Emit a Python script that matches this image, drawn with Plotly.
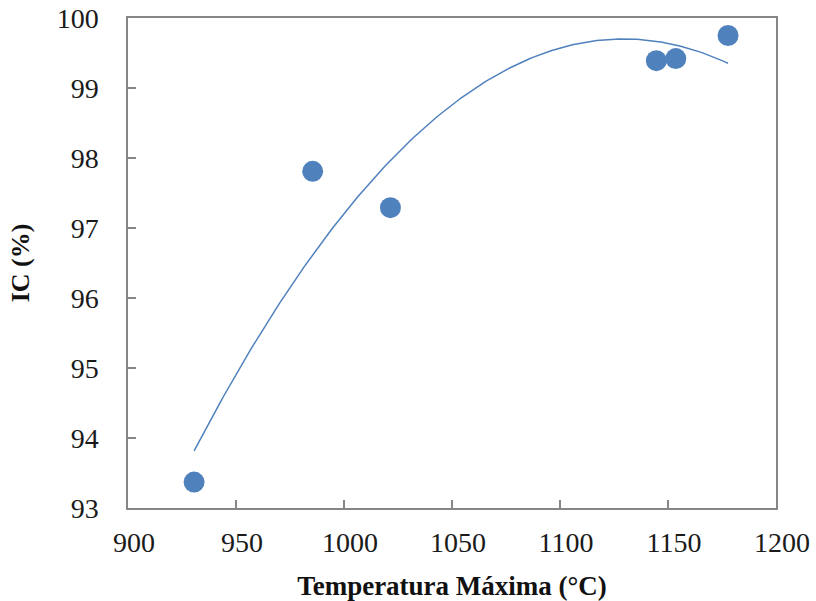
import numpy as np
import plotly.graph_objects as go

# Maximum temperature (°C) and IC (%) measurements
temperatura = [930.6, 985.5, 1021.5, 1144.6, 1153.6, 1177.8]
ic = [93.37, 97.81, 97.29, 99.39, 99.42, 99.75]

x_ticks = [900, 950, 1000, 1050, 1100, 1150, 1200]
y_ticks = [93, 94, 95, 96, 97, 98, 99, 100]

# Second-order polynomial trendline over the data range
coef = np.polyfit(temperatura, ic, 2)
x_fit = np.linspace(min(temperatura), max(temperatura), 200)
y_fit = np.polyval(coef, x_fit)

blue = "#4F81BD"
font_family = "Liberation Serif, Times New Roman, serif"

fig = go.Figure()
fig.add_trace(go.Scatter(
    x=x_fit, y=y_fit, mode="lines",
    line=dict(color=blue, width=1.5), hoverinfo="skip", showlegend=False,
))
fig.add_trace(go.Scatter(
    x=temperatura, y=ic, mode="markers",
    marker=dict(color=blue, size=21, line=dict(width=0)), showlegend=False,
))

axis_common = dict(
    showgrid=False, zeroline=False, automargin=False,
    showline=True, linecolor="#868686", linewidth=1.5, mirror=True,
    ticks="inside", ticklen=8, tickwidth=1.5, tickcolor="#868686",
    tickfont=dict(family=font_family, size=28, color="#1a1a1a"),
)

fig.update_layout(
    width=816, height=601,
    margin=dict(l=128, r=40, t=18, b=93),
    paper_bgcolor="white", plot_bgcolor="white",
    xaxis=dict(
        range=[900, 1200], tickvals=x_ticks,
        ticklabelstandoff=9, ticklabelshift=6,
        title=dict(text="<b>Temperatura Máxima (°C)</b>", standoff=20,
                   font=dict(family=font_family, size=27, color="#111111")),
        **axis_common,
    ),
    yaxis=dict(
        range=[93, 100], tickvals=y_ticks,
        ticklabelstandoff=22,
        title=dict(text="<b>IC (%)</b>", standoff=20,
                   font=dict(family=font_family, size=26, color="#111111")),
        **axis_common,
    ),
)

fig.write_html("out.html")
